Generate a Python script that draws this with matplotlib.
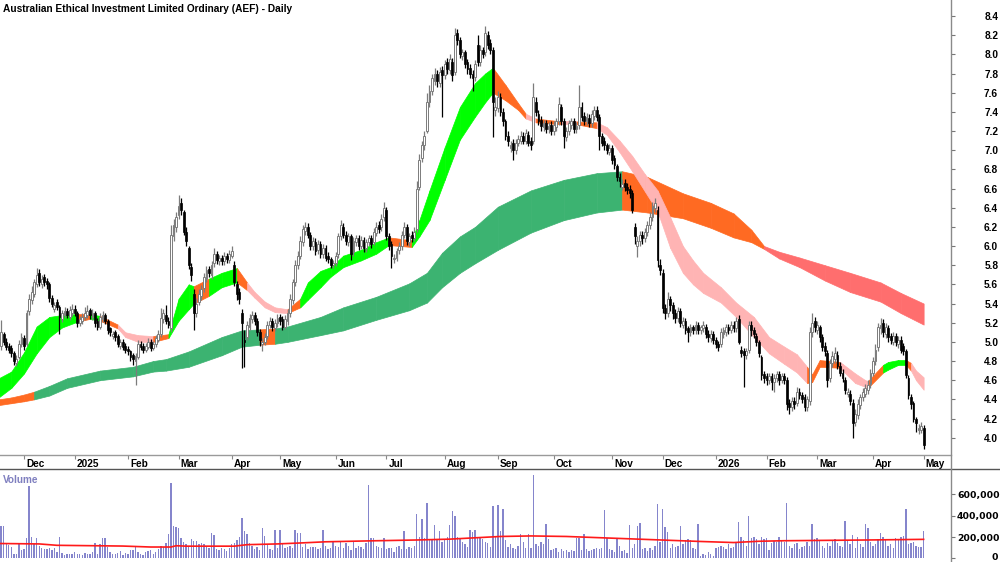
import numpy as np
import matplotlib
matplotlib.use("Agg")
import matplotlib.pyplot as plt
from matplotlib.lines import Line2D

plt.rcParams['font.family'] = ['Liberation Sans', 'DejaVu Sans']

# ---------------- data (trading-day index 0 = 2 Dec 2024) ----------------
first_day = -10
opens = [4.98, 4.96, 5.08, 5.00, 4.96, 4.94, 4.88, 4.78, 4.84, 4.98,
         5.04, 4.98, 5.32, 5.44, 5.50, 5.60, 5.72, 5.60, 5.68, 5.64,
         5.60, 5.46, 5.34, 5.42, 5.36, 5.24, 5.28, 5.32, 5.26, 5.30,
         5.34, 5.30, 5.20, 5.22, 5.26, 5.28, 5.33, 5.26, 5.30, 5.22,
         5.16, 5.24, 5.28, 5.22, 5.14, 5.06, 5.10, 5.06, 4.96, 5.00,
         4.96, 4.93, 4.90, 4.86, 4.80, 4.84, 4.98, 4.96, 4.92, 4.95,
         5.00, 4.94, 4.98, 5.02, 5.08, 5.24, 5.28, 5.22, 5.14, 6.10,
         6.20, 6.32, 6.45, 6.35, 6.15, 5.98, 5.78, 5.50, 5.30, 5.42,
         5.48, 5.56, 5.66, 5.76, 5.70, 5.82, 5.92, 5.84, 5.88, 5.84,
         5.90, 5.85, 5.90, 5.80, 5.60, 5.52, 5.30, 5.02, 5.05, 5.16,
         5.24, 5.28, 5.22, 5.10, 4.98, 5.00, 5.06, 5.18, 5.22, 5.14,
         5.20, 5.26, 5.24, 5.16, 5.22, 5.30, 5.44, 5.62, 5.80, 5.90,
         6.04, 6.16, 6.20, 6.12, 6.00, 6.04, 5.96, 6.02, 5.92, 5.98,
         5.90, 5.86, 5.80, 5.82, 5.92, 6.10, 6.20, 6.12, 6.04, 6.10,
         5.94, 6.04, 6.08, 6.00, 6.06, 5.98, 6.04, 6.08, 6.04, 6.14,
         6.22, 6.20, 6.30, 6.38, 6.10, 6.02, 5.86, 5.88, 5.96, 6.00,
         6.12, 6.20, 6.04, 6.12, 6.08, 6.18, 6.62, 6.92, 7.05, 7.20,
         7.50, 7.62, 7.72, 7.80, 7.70, 7.84, 7.78, 7.92, 7.84, 7.92,
         7.82, 8.22, 8.15, 7.98, 8.02, 7.92, 7.86, 7.80, 7.76, 8.10,
         7.92, 8.05, 8.02, 8.20, 8.12, 8.05, 7.42, 7.44, 7.55, 7.40,
         7.30, 7.15, 7.02, 7.08, 7.00, 7.08, 7.10, 7.15, 7.10, 7.16,
         7.10, 7.10, 7.50, 7.38, 7.32, 7.24, 7.28, 7.22, 7.26, 7.20,
         7.24, 7.30, 7.45, 7.30, 7.14, 7.20, 7.26, 7.30, 7.22, 7.26,
         7.45, 7.36, 7.30, 7.34, 7.28, 7.36, 7.42, 7.35, 7.15, 7.10,
         7.05, 6.98, 7.02, 6.92, 6.84, 6.72, 6.62, 6.66, 6.62, 6.60,
         6.55, 6.20, 6.00, 6.05, 6.12, 6.08, 6.15, 6.22, 6.30, 6.40,
         6.38, 5.80, 5.72, 5.35, 5.30, 5.45, 5.38, 5.30, 5.25, 5.32,
         5.18, 5.22, 5.14, 5.10, 5.15, 5.12, 5.18, 5.12, 5.14, 5.16,
         5.08, 5.04, 5.08, 5.02, 4.98, 4.98, 5.08, 5.10, 5.15, 5.12,
         5.18, 5.14, 5.24, 4.92, 4.90, 4.86, 4.92, 5.18, 5.12, 5.06,
         5.00, 4.84, 4.66, 4.64, 4.60, 4.64, 4.58, 4.62, 4.66, 4.60,
         4.64, 4.60, 4.36, 4.32, 4.38, 4.36, 4.48, 4.45, 4.42, 4.32,
         4.38, 5.10, 5.22, 5.12, 5.15, 5.05, 4.96, 4.88, 4.62, 4.78,
         4.82, 4.86, 4.75, 4.68, 4.60, 4.46, 4.46, 4.36, 4.16, 4.24,
         4.34, 4.42, 4.46, 4.50, 4.56, 4.68, 4.80, 4.95, 5.14, 5.20,
         5.08, 5.14, 5.06, 5.00, 5.06, 4.98, 5.02, 4.96, 4.90, 4.62,
         4.42, 4.36, 4.20, 4.08, 4.08, 4.10]
highs = [5.12, 5.23, 5.10, 5.04, 4.99, 4.97, 4.90, 4.86, 5.02, 5.09,
         5.07, 5.33, 5.50, 5.58, 5.66, 5.77, 5.76, 5.70, 5.71, 5.67,
         5.62, 5.49, 5.42, 5.45, 5.38, 5.33, 5.36, 5.35, 5.37, 5.40,
         5.38, 5.32, 5.27, 5.30, 5.36, 5.38, 5.35, 5.34, 5.32, 5.25,
         5.30, 5.32, 5.30, 5.24, 5.16, 5.11, 5.12, 5.08, 5.03, 5.03,
         4.99, 4.96, 4.92, 4.88, 4.88, 5.02, 5.01, 4.99, 4.99, 5.04,
         5.03, 5.01, 5.07, 5.12, 5.35, 5.34, 5.38, 5.26, 6.22, 6.28,
         6.35, 6.53, 6.50, 6.38, 6.20, 6.00, 5.82, 5.55, 5.46, 5.55,
         5.59, 5.72, 5.79, 5.79, 5.84, 5.98, 5.95, 5.91, 5.91, 5.94,
         5.93, 5.96, 6.00, 5.84, 5.63, 5.56, 5.34, 5.12, 5.22, 5.29,
         5.32, 5.31, 5.25, 5.13, 5.04, 5.09, 5.22, 5.26, 5.25, 5.24,
         5.29, 5.29, 5.27, 5.28, 5.34, 5.50, 5.66, 5.85, 5.95, 6.10,
         6.22, 6.25, 6.24, 6.15, 6.09, 6.08, 6.06, 6.05, 6.02, 6.01,
         5.94, 5.89, 5.85, 5.94, 6.14, 6.27, 6.24, 6.16, 6.14, 6.13,
         6.09, 6.12, 6.11, 6.10, 6.09, 6.07, 6.12, 6.11, 6.19, 6.25,
         6.26, 6.33, 6.46, 6.41, 6.14, 6.05, 5.92, 5.98, 6.04, 6.16,
         6.25, 6.23, 6.14, 6.16, 6.20, 6.68, 6.96, 7.10, 7.20, 7.60,
         7.68, 7.80, 7.86, 7.84, 7.87, 7.88, 7.94, 7.96, 8.00, 7.96,
         8.28, 8.26, 8.18, 8.06, 8.05, 7.95, 7.90, 7.84, 7.94, 8.20,
         8.10, 8.08, 8.30, 8.24, 8.16, 8.08, 7.55, 7.62, 7.60, 7.44,
         7.33, 7.20, 7.10, 7.12, 7.12, 7.16, 7.20, 7.19, 7.22, 7.20,
         7.14, 7.70, 7.56, 7.42, 7.36, 7.32, 7.32, 7.29, 7.30, 7.30,
         7.34, 7.55, 7.48, 7.34, 7.24, 7.32, 7.34, 7.34, 7.29, 7.68,
         7.50, 7.40, 7.39, 7.38, 7.42, 7.46, 7.46, 7.38, 7.18, 7.14,
         7.08, 7.06, 7.05, 6.95, 6.86, 6.76, 6.70, 6.70, 6.66, 6.64,
         6.58, 6.24, 6.10, 6.16, 6.16, 6.19, 6.26, 6.35, 6.46, 6.50,
         6.42, 5.86, 5.76, 5.40, 5.52, 5.48, 5.42, 5.34, 5.36, 5.35,
         5.26, 5.25, 5.17, 5.19, 5.18, 5.22, 5.21, 5.18, 5.22, 5.19,
         5.12, 5.12, 5.11, 5.05, 5.01, 5.14, 5.16, 5.19, 5.19, 5.22,
         5.22, 5.26, 5.28, 4.96, 4.94, 4.94, 5.22, 5.22, 5.15, 5.09,
         5.02, 4.86, 4.70, 4.68, 4.68, 4.68, 4.66, 4.70, 4.70, 4.68,
         4.68, 4.63, 4.40, 4.42, 4.42, 4.53, 4.52, 4.48, 4.46, 4.44,
         5.16, 5.30, 5.26, 5.22, 5.18, 5.08, 5.00, 4.92, 4.82, 4.90,
         4.95, 4.90, 4.79, 4.72, 4.63, 4.52, 4.50, 4.40, 4.30, 4.40,
         4.46, 4.52, 4.56, 4.60, 4.72, 4.84, 4.98, 5.20, 5.25, 5.24,
         5.20, 5.18, 5.09, 5.10, 5.09, 5.06, 5.06, 4.99, 4.93, 4.65,
         4.46, 4.38, 4.22, 4.14, 4.16, 4.13]
lows = [4.94, 4.92, 4.97, 4.91, 4.88, 4.84, 4.76, 4.75, 4.82, 4.95,
        4.92, 4.96, 5.28, 5.40, 5.47, 5.57, 5.58, 5.56, 5.58, 5.55,
        5.42, 5.36, 5.31, 5.33, 5.08, 5.21, 5.25, 5.25, 5.23, 5.27,
        5.27, 5.16, 5.17, 5.19, 5.23, 5.25, 5.24, 5.23, 5.16, 5.12,
        5.13, 5.21, 5.19, 5.08, 5.06, 5.03, 5.01, 4.95, 4.93, 4.92,
        4.88, 4.86, 4.80, 4.76, 4.55, 4.82, 4.92, 4.88, 4.89, 4.93,
        4.90, 4.91, 4.95, 5.00, 5.05, 5.20, 5.19, 5.14, 5.10, 6.05,
        6.15, 6.28, 6.32, 6.12, 6.00, 5.76, 5.64, 5.12, 5.26, 5.38,
        5.44, 5.52, 5.62, 5.68, 5.66, 5.78, 5.81, 5.80, 5.80, 5.80,
        5.82, 5.82, 5.87, 5.58, 5.44, 5.40, 4.73, 4.74, 5.02, 5.12,
        5.20, 5.18, 5.06, 4.96, 4.90, 4.97, 5.03, 5.14, 5.11, 5.11,
        5.16, 5.18, 5.12, 5.13, 5.18, 5.26, 5.40, 5.58, 5.76, 5.86,
        6.00, 6.12, 6.08, 5.96, 5.96, 5.91, 5.92, 5.88, 5.88, 5.84,
        5.82, 5.77, 5.77, 5.79, 5.88, 6.06, 6.08, 6.01, 6.00, 5.85,
        5.90, 6.00, 5.96, 5.97, 5.94, 5.94, 6.00, 5.98, 6.01, 6.10,
        6.14, 6.16, 6.26, 6.06, 5.96, 5.77, 5.82, 5.84, 5.92, 5.96,
        6.08, 6.01, 6.00, 6.04, 6.05, 6.15, 6.58, 6.88, 7.00, 7.18,
        7.45, 7.58, 7.68, 7.66, 7.66, 7.35, 7.74, 7.80, 7.80, 7.72,
        7.78, 8.10, 7.96, 7.94, 7.86, 7.80, 7.75, 7.62, 7.72, 7.88,
        7.88, 7.96, 7.98, 8.06, 8.00, 7.14, 7.36, 7.40, 7.36, 7.25,
        7.11, 7.04, 6.98, 6.90, 6.96, 7.04, 7.06, 7.06, 7.06, 7.04,
        7.00, 7.06, 7.36, 7.26, 7.20, 7.20, 7.18, 7.18, 7.16, 7.16,
        7.20, 7.26, 7.26, 7.02, 7.10, 7.16, 7.22, 7.18, 7.18, 7.22,
        7.30, 7.26, 7.26, 7.24, 7.24, 7.32, 7.30, 7.00, 7.04, 7.00,
        6.96, 6.95, 6.86, 6.80, 6.68, 6.62, 6.58, 6.57, 6.54, 6.50,
        6.34, 6.02, 5.89, 6.00, 6.02, 6.04, 6.10, 6.18, 6.26, 6.36,
        5.78, 5.70, 5.30, 5.24, 5.26, 5.32, 5.24, 5.20, 5.21, 5.15,
        5.14, 5.08, 5.00, 5.06, 5.08, 5.08, 5.08, 5.08, 5.10, 5.04,
        5.00, 5.00, 4.98, 4.94, 4.90, 4.95, 5.04, 5.06, 5.08, 5.09,
        5.10, 5.10, 4.98, 4.84, 4.53, 4.82, 4.88, 5.06, 5.04, 4.96,
        4.84, 4.60, 4.57, 4.55, 4.56, 4.50, 4.48, 4.58, 4.55, 4.57,
        4.56, 4.29, 4.25, 4.28, 4.30, 4.33, 4.40, 4.36, 4.28, 4.28,
        4.34, 5.05, 5.10, 5.08, 5.00, 4.90, 4.85, 4.53, 4.58, 4.74,
        4.78, 4.72, 4.64, 4.58, 4.46, 4.42, 4.34, 4.00, 4.12, 4.20,
        4.30, 4.38, 4.42, 4.46, 4.52, 4.64, 4.76, 4.90, 5.08, 5.05,
        5.04, 5.00, 4.98, 4.97, 4.96, 4.94, 4.88, 4.86, 4.62, 4.40,
        4.30, 4.16, 4.06, 4.04, 4.05, 3.88]
closes = [5.05, 5.10, 5.00, 4.95, 4.92, 4.88, 4.80, 4.82, 4.98, 5.05,
          4.96, 5.30, 5.45, 5.52, 5.62, 5.70, 5.62, 5.66, 5.62, 5.60,
          5.46, 5.40, 5.38, 5.36, 5.26, 5.30, 5.32, 5.28, 5.33, 5.34,
          5.30, 5.20, 5.24, 5.26, 5.30, 5.32, 5.28, 5.30, 5.20, 5.16,
          5.26, 5.28, 5.22, 5.12, 5.10, 5.08, 5.05, 4.98, 5.00, 4.95,
          4.92, 4.90, 4.84, 4.82, 4.85, 4.98, 4.95, 4.92, 4.96, 5.00,
          4.94, 4.98, 5.04, 5.08, 5.25, 5.30, 5.22, 5.18, 6.12, 6.22,
          6.30, 6.42, 6.38, 6.15, 6.05, 5.80, 5.70, 5.30, 5.40, 5.50,
          5.55, 5.68, 5.75, 5.72, 5.80, 5.92, 5.85, 5.88, 5.84, 5.90,
          5.86, 5.92, 5.95, 5.62, 5.50, 5.45, 5.20, 5.00, 5.18, 5.25,
          5.28, 5.22, 5.10, 5.02, 5.00, 5.05, 5.18, 5.22, 5.15, 5.20,
          5.25, 5.22, 5.16, 5.24, 5.30, 5.45, 5.62, 5.80, 5.90, 6.05,
          6.18, 6.20, 6.12, 6.00, 6.05, 5.95, 6.02, 5.92, 5.98, 5.88,
          5.86, 5.80, 5.82, 5.90, 6.10, 6.22, 6.12, 6.05, 6.10, 5.92,
          6.05, 6.08, 6.00, 6.06, 5.98, 6.04, 6.08, 6.02, 6.15, 6.20,
          6.18, 6.28, 6.40, 6.10, 6.00, 5.90, 5.88, 5.95, 6.00, 6.12,
          6.20, 6.05, 6.10, 6.08, 6.15, 6.60, 6.90, 7.05, 7.15, 7.50,
          7.62, 7.75, 7.80, 7.72, 7.82, 7.78, 7.90, 7.85, 7.95, 7.78,
          8.20, 8.15, 8.00, 8.02, 7.90, 7.85, 7.80, 7.75, 7.90, 7.92,
          8.05, 8.00, 8.22, 8.10, 8.05, 7.50, 7.45, 7.55, 7.40, 7.30,
          7.15, 7.10, 7.05, 7.00, 7.08, 7.12, 7.15, 7.10, 7.18, 7.08,
          7.05, 7.55, 7.40, 7.30, 7.25, 7.28, 7.22, 7.25, 7.20, 7.26,
          7.30, 7.48, 7.30, 7.15, 7.20, 7.28, 7.30, 7.22, 7.25, 7.45,
          7.35, 7.30, 7.35, 7.28, 7.38, 7.42, 7.35, 7.15, 7.08, 7.05,
          7.00, 7.02, 6.90, 6.85, 6.72, 6.68, 6.65, 6.62, 6.58, 6.55,
          6.38, 6.10, 6.05, 6.12, 6.08, 6.15, 6.22, 6.30, 6.42, 6.45,
          5.85, 5.75, 5.35, 5.30, 5.45, 5.38, 5.30, 5.25, 5.32, 5.20,
          5.22, 5.12, 5.10, 5.15, 5.12, 5.18, 5.12, 5.15, 5.18, 5.08,
          5.05, 5.08, 5.02, 4.98, 4.95, 5.10, 5.12, 5.15, 5.12, 5.18,
          5.14, 5.22, 5.00, 4.88, 4.86, 4.90, 5.18, 5.12, 5.08, 5.00,
          4.88, 4.65, 4.62, 4.60, 4.64, 4.58, 4.62, 4.66, 4.60, 4.64,
          4.60, 4.35, 4.32, 4.38, 4.35, 4.48, 4.45, 4.40, 4.32, 4.40,
          5.10, 5.20, 5.15, 5.18, 5.05, 4.95, 4.90, 4.60, 4.78, 4.85,
          4.88, 4.75, 4.68, 4.62, 4.50, 4.48, 4.38, 4.15, 4.25, 4.35,
          4.42, 4.48, 4.52, 4.55, 4.68, 4.80, 4.92, 5.15, 5.18, 5.10,
          5.15, 5.05, 5.02, 5.06, 5.00, 5.02, 4.92, 4.90, 4.65, 4.45,
          4.35, 4.20, 4.15, 4.10, 4.12, 3.92]
volume_k = [250, 300, 300, 130, 125, 110, 45, 40, 130, 75,
            85, 195, 680, 200, 130, 190, 120, 100, 90, 85,
            95, 80, 100, 60, 200, 50, 35, 40, 45, 40,
            55, 40, 45, 35, 50, 45, 40, 60, 140, 45,
            130, 195, 195, 110, 60, 45, 40, 50, 70, 35,
            50, 40, 75, 80, 110, 60, 45, 30, 60, 70,
            80, 45, 55, 90, 120, 105, 140, 225, 710, 300,
            290, 280, 195, 150, 130, 105, 180, 160, 165, 130,
            140, 130, 110, 100, 240, 220, 90, 80, 100, 85,
            70, 100, 130, 145, 170, 200, 380, 260, 225, 145,
            120, 90, 110, 80, 285, 210, 130, 90, 80, 270,
            100, 270, 140, 100, 110, 120, 95, 270, 240, 240,
            110, 130, 90, 110, 110, 110, 85, 100, 265, 120,
            90, 100, 150, 120, 110, 150, 100, 140, 120, 80,
            150, 100, 120, 110, 90, 140, 690, 195, 190, 120,
            110, 100, 195, 90, 100, 100, 60, 110, 120, 90,
            255, 90, 110, 100, 120, 420, 200, 370, 190, 515,
            170, 180, 315, 170, 260, 150, 170, 200, 315, 440,
            400, 200, 190, 150, 130, 110, 270, 250, 270, 200,
            190, 180, 150, 140, 110, 490, 200, 500, 260, 460,
            170, 110, 130, 100, 90, 120, 230, 150, 100, 230,
            100, 785, 130, 120, 150, 130, 320, 185, 80, 90,
            95, 60, 85, 70, 75, 60, 80, 70, 190, 190,
            80, 230, 90, 70, 75, 85, 100, 85, 95, 450,
            190, 85, 75, 60, 180, 120, 65, 80, 50, 315,
            100, 130, 305, 330, 90, 100, 70, 95, 80, 120,
            510, 150, 460, 290, 250, 100, 130, 110, 120, 305,
            130, 175, 180, 175, 100, 90, 320, 20, 40, 30,
            55, 40, 20, 100, 110, 120, 105, 90, 130, 100,
            110, 140, 340, 200, 170, 120, 400, 190, 200, 180,
            130, 200, 180, 190, 80, 140, 160, 150, 200, 170,
            150, 515, 120, 100, 130, 140, 90, 110, 120, 150,
            120, 320, 180, 190, 175, 120, 100, 140, 120, 170,
            180, 140, 120, 110, 350, 160, 130, 220, 100, 200,
            130, 110, 325, 280, 150, 120, 130, 180, 240, 200,
            170, 120, 130, 100, 190, 170, 200, 210, 460, 130,
            140, 150, 120, 110, 110, 260]

# volume moving-average line (day index, thousands)
vol_ma_day = [-10, 6, 13, 39, 50, 58, 60, 64, 83, 88, 100, 110, 119, 135, 155,
              168, 188, 200, 214, 231, 248, 267, 280, 290, 300, 333, 355]
vol_ma_k = [139, 135, 122, 115, 106, 106, 118, 114, 114, 128, 135, 145, 155, 163, 172,
            180, 205, 210, 205, 190, 175, 158, 148, 160, 165, 172, 178]

# short-term ribbon edges (day index, top, bottom) and colour code per segment
short_day = [-10, -5, 0, 5, 10, 15, 21, 26, 30, 37, 40, 45, 51, 57, 61, 65, 67, 73, 78, 84,
             88, 91, 95, 99, 104, 109, 112, 117, 121, 126, 133, 139, 144, 153, 156, 160,
             166, 172, 178, 182, 185, 190, 195, 198, 202, 212, 218, 226, 230, 235, 240,
             245, 250, 255, 260, 264, 268, 275, 281, 288, 294, 300, 305, 309, 311, 314,
             322, 323, 328, 332, 333, 339, 341, 345, 348, 350, 352, 355]
short_top = [4.62, 4.69, 4.89, 5.16, 5.26, 5.28, 5.29, 5.29, 5.27, 5.18, 5.10, 5.07, 5.06,
             5.08, 5.45, 5.60, 5.58, 5.66, 5.72, 5.77, 5.62, 5.52, 5.42, 5.36, 5.34, 5.45,
             5.62, 5.74, 5.78, 5.90, 5.96, 6.04, 6.09, 6.06, 6.27, 6.58, 7.03, 7.45, 7.70,
             7.80, 7.86, 7.68, 7.49, 7.38, 7.33, 7.30, 7.30, 7.29, 7.24, 7.10, 6.94, 6.75,
             6.58, 6.30, 6.00, 5.85, 5.72, 5.57, 5.41, 5.26, 5.05, 4.95, 4.87, 4.74, 4.66,
             4.81, 4.79, 4.77, 4.67, 4.60, 4.59, 4.76, 4.79, 4.81, 4.81, 4.78, 4.70, 4.63]
short_bot = [4.42, 4.52, 4.67, 4.88, 5.05, 5.15, 5.21, 5.24, 5.22, 5.14, 5.05, 5.00, 5.00,
             5.04, 5.22, 5.34, 5.40, 5.48, 5.57, 5.62, 5.54, 5.46, 5.36, 5.31, 5.30, 5.36,
             5.44, 5.57, 5.68, 5.78, 5.85, 5.92, 6.01, 5.99, 6.10, 6.27, 6.69, 7.11, 7.35,
             7.50, 7.60, 7.52, 7.42, 7.33, 7.29, 7.27, 7.27, 7.23, 7.16, 6.98, 6.78, 6.57,
             6.36, 5.98, 5.72, 5.60, 5.51, 5.41, 5.26, 5.05, 4.88, 4.77, 4.68, 4.57, 4.58,
             4.74, 4.73, 4.70, 4.57, 4.53, 4.52, 4.68, 4.71, 4.76, 4.76, 4.70, 4.60, 4.50]
short_state = ("GGGGGG" "OGO" "PPP" "O" "GGG" "O" "GG" "O" "PPPP" "O" "GGGGGGG" "O"
               "GGGGGGG" "OOO" "P" "O" "P" "O" "PPPPPPPPPPPPPPPP" "OOO" "PPPP" "O" "GGG" "O" "PP")

# long-term ribbon edges and colour code per segment
long_day = [-10, -5, 0, 4, 10, 17, 30, 43, 51, 56, 65, 78, 86, 93, 99, 104, 117, 126, 139,
            152, 159, 165, 172, 178, 187, 200, 213, 226, 236, 246, 260, 271, 280, 287, 292,
            298, 306, 316, 326, 338, 346, 355]
long_top = [4.40, 4.42, 4.45, 4.48, 4.54, 4.62, 4.70, 4.74, 4.80, 4.82, 4.90, 5.05, 5.12,
            5.13, 5.14, 5.16, 5.26, 5.36, 5.47, 5.61, 5.72, 5.93, 6.10, 6.20, 6.41, 6.58,
            6.69, 6.76, 6.78, 6.72, 6.55, 6.45, 6.34, 6.17, 6.00, 5.94, 5.88, 5.80, 5.72,
            5.62, 5.51, 5.40]
long_bot = [4.34, 4.36, 4.38, 4.40, 4.44, 4.52, 4.60, 4.64, 4.69, 4.70, 4.74, 4.86, 4.95,
            4.97, 4.98, 5.00, 5.07, 5.12, 5.23, 5.33, 5.41, 5.57, 5.72, 5.82, 5.96, 6.14,
            6.27, 6.35, 6.38, 6.35, 6.29, 6.19, 6.09, 6.04, 5.97, 5.87, 5.78, 5.64, 5.52,
            5.42, 5.30, 5.18]
long_state = "OOO" + "DDDDDDDDDD" + "O" + "DDDDDDDDDDDDDD" + "OOOOOO" + "RRRRRRR"

month_pos = [0, 20, 41, 61, 82, 101, 123, 143, 166, 187, 209, 232, 252, 273, 293, 313, 335, 355]
month_lab = ['Dec', '2025', 'Feb', 'Mar', 'Apr', 'May', 'Jun', 'Jul', 'Aug', 'Sep', 'Oct',
             'Nov', 'Dec', '2026', 'Feb', 'Mar', 'Apr', 'May']
price_ticks = [4.0, 4.2, 4.4, 4.6, 4.8, 5.0, 5.2, 5.4, 5.6, 5.8, 6.0, 6.2, 6.4, 6.6, 6.8,
               7.0, 7.2, 7.4, 7.6, 7.8, 8.0, 8.2, 8.4]
vol_ticks = [0, 200000, 400000, 600000]
title = "Australian Ethical Investment Limited Ordinary (AEF) - Daily"

# ---------------- figure ----------------
FW, FH = 1000, 562
fig = plt.figure(figsize=(FW / 100, FH / 100), dpi=100)
ax = fig.add_axes([0, (FH - 455) / FH, 951 / FW, 455 / FH])
axv = fig.add_axes([0, 0, 951 / FW, 93 / FH])

colors = {'G': '#00FF00', 'O': '#FF6A22', 'P': '#FFB4B4', 'D': '#3CB371', 'R': '#FF6E6E'}


def draw_ribbon(a, day, top, bot, state, z):
    for k in range(len(day) - 1):
        c = colors[state[min(k, len(state) - 1)]]
        a.fill_between([day[k], day[k + 1]], [bot[k], bot[k + 1]], [top[k], top[k + 1]],
                       facecolor=c, edgecolor=c, linewidth=0.5, zorder=z)


draw_ribbon(ax, long_day, long_top, long_bot, long_state, 1)
draw_ribbon(ax, short_day, short_top, short_bot, short_state, 2)

o = np.array(opens)
h = np.array(highs)
l = np.array(lows)
c = np.array(closes)
n = min(len(o), len(h), len(l), len(c))
o, h, l, c = o[:n], h[:n], l[:n], c[:n]
xs = np.arange(first_day, first_day + n)
up = c >= o
grey = '#7c7c7c'
ax.vlines(xs[up], l[up], h[up], colors=grey, linewidth=0.9, zorder=3)
ax.vlines(xs[~up], l[~up], h[~up], colors='black', linewidth=0.9, zorder=3)
bb = np.minimum(o, c)
bh = np.maximum(np.abs(c - o), 0.012)
ax.bar(xs[up], bh[up], bottom=bb[up], width=0.72, color='white', edgecolor=grey,
       linewidth=0.7, zorder=4)
ax.bar(xs[~up], bh[~up], bottom=bb[~up], width=0.72, color='black', edgecolor='black',
       linewidth=0.5, zorder=4)

ax.set_xlim(-9.47, 365.8)
ax.set_ylim(3.8194, 8.567)

# volume
vol = np.array(volume_k[:n]) * 1000.0
axv.bar(xs[:len(vol)], vol, width=0.55, color='#8585CC', linewidth=0, zorder=2)
axv.plot(vol_ma_day, np.array(vol_ma_k) * 1000.0, color='#FF1A1A', linewidth=1.2, zorder=3)
axv.set_xlim(-9.47, 365.8)
axv.set_ylim(-34700, 838500)

# spines
for s in ['left', 'top', 'right']:
    ax.spines[s].set_visible(False)
ax.spines['bottom'].set_color('#9a9a9a')
ax.spines['bottom'].set_linewidth(1.0)
for s in ['left', 'top', 'right', 'bottom']:
    axv.spines[s].set_visible(False)

# price axis (right)
ax.yaxis.tick_right()
ax.set_yticks(price_ticks)
ax.set_yticklabels(['%.1f' % v for v in price_ticks])
ax.tick_params(axis='y', direction='out', length=3, width=0.8, color='#777777',
               labelsize=7.3, pad=31)
for t in ax.get_yticklabels():
    t.set_horizontalalignment('right')
    t.set_fontweight('bold')

# month ticks + labels
ax.set_xticks(month_pos)
ax.set_xticklabels([])
ax.tick_params(axis='x', direction='out', length=3, width=0.8, color='#888888')
for p, lab in zip(month_pos, month_lab):
    ax.text(p + 0.8, -11.7 / 455, lab, transform=ax.get_xaxis_transform(), ha='left',
            va='baseline', fontsize=7.2, fontweight='bold', clip_on=False)

# volume axis (right); the "0" label is placed as its own text to stay inside the image
axv.yaxis.tick_right()
axv.set_yticks(vol_ticks)
axv.set_yticklabels(['' if v == 0 else '{:,}'.format(v) for v in vol_ticks])
axv.tick_params(axis='y', direction='out', length=3, width=0.8, color='#777777',
                labelsize=6.7, pad=32)
axv.set_xticks([])
for t in axv.get_yticklabels():
    t.set_horizontalalignment('right')
    t.set_fontweight('bold')
    t.set_family(['DejaVu Sans'])
fig.text(997.5 / FW, 1 - 560.5 / FH, '{:,}'.format(vol_ticks[0]), ha='right', va='baseline',
         fontsize=6.7, fontweight='bold', family=['DejaVu Sans'])

# frame lines
fig.add_artist(Line2D([0, 1], [1 - 469 / FH] * 2, color='#555555', linewidth=1.0,
                      transform=fig.transFigure))
fig.add_artist(Line2D([951 / FW] * 2, [0, 1], color='#8a8a8a', linewidth=1.0,
                      transform=fig.transFigure))

# texts
fig.text(3 / FW, 1 - 12.5 / FH, title, fontsize=7.3, fontweight='bold', va='baseline')
fig.text(2.7 / FW, 1 - 482.7 / FH, 'Volume', fontsize=7.2, fontweight='bold',
         color='#7f7fbf', va='baseline')

fig.savefig('out.png', dpi=100)
